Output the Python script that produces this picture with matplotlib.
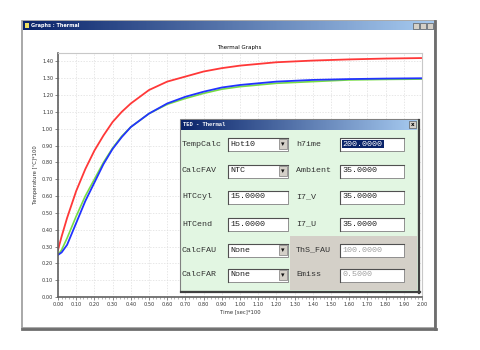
import matplotlib
matplotlib.use("Agg")
import matplotlib.pyplot as plt
from matplotlib.patches import Rectangle
from matplotlib.colors import LinearSegmentedColormap
import numpy as np

# time axis (sec*100) and the three temperature curves
time = [0.00, 0.02, 0.05, 0.10, 0.15, 0.20, 0.25, 0.30, 0.35, 0.40, 0.50,
        0.60, 0.70, 0.80, 0.90, 1.00, 1.20, 1.40, 1.60, 1.80, 2.00]
temp_red = [0.28, 0.36, 0.47, 0.63, 0.76, 0.87, 0.96, 1.04, 1.10, 1.15, 1.23,
            1.28, 1.31, 1.34, 1.36, 1.375, 1.395, 1.405, 1.412, 1.417, 1.42]
temp_green = [0.25, 0.28, 0.35, 0.48, 0.60, 0.70, 0.80, 0.885, 0.955, 1.01, 1.09,
              1.145, 1.18, 1.21, 1.235, 1.25, 1.27, 1.28, 1.29, 1.293, 1.295]
temp_blue = [0.25, 0.265, 0.31, 0.44, 0.57, 0.68, 0.79, 0.88, 0.95, 1.01, 1.09,
             1.15, 1.19, 1.22, 1.245, 1.26, 1.28, 1.29, 1.295, 1.298, 1.30]

x_ticks = [i / 10 for i in range(21)]
y_ticks = [i / 10 for i in range(15)]

# dialog rows: (left label, left value, is combo, right label, right value, disabled)
rows = [
    ("TempCalc", "Hot10", True, "h7ime", "200.0000", False),
    ("CalcFAV", "NTC", True, "Ambient", "35.0000", False),
    ("HTCcyl", "15.0000", False, "I7_V", "35.0000", False),
    ("HTCend", "15.0000", False, "I7_U", "35.0000", False),
    ("CalcFAU", "None", True, "ThS_FAU", "100.0000", True),
    ("CalcFAR", "None", True, "Emiss", "0.5000", True),
]
row_y = [144, 171, 197, 224, 250, 275]

W, H = 480, 350
fig = plt.figure(figsize=(4.8, 3.5), dpi=100)
fig.patch.set_facecolor("white")

# background layer: application window frame
bg = fig.add_axes([0, 0, 1, 1], zorder=0)
bg.set_xlim(0, W)
bg.set_ylim(H, 0)
bg.axis("off")

bg.add_patch(Rectangle((22, 21), 413, 307, facecolor="white", edgecolor="#9a9a9a", lw=1.2))
bg.plot([435, 435], [21, 329], color="#6e6e6e", lw=2)
bg.plot([22, 436], [328.5, 328.5], color="#6e6e6e", lw=2)
grad = LinearSegmentedColormap.from_list("tb", ["#0a246a", "#a6caf0"])
bg.imshow(np.linspace(0, 1, 200)[None, :], cmap=grad, aspect="auto",
          extent=(23, 434, 30, 21.5), zorder=1)
bg.add_patch(Rectangle((24.5, 23), 4, 5, facecolor="#f0e060", edgecolor="none", zorder=2))
bg.text(31, 25.8, "Graphs : Thermal", color="white", fontsize=3.6,
        fontweight="bold", va="center", ha="left", zorder=2)
for bx in (413, 420, 427):
    bg.add_patch(Rectangle((bx, 22.5), 6, 6, facecolor="#d4d0c8", edgecolor="#404040",
                           lw=0.4, zorder=2))
bg.text(239, 47, "Thermal Graphs", fontsize=4, ha="center", va="center")

# chart
ax = fig.add_axes([58 / W, 1 - 297 / H, (422 - 58) / W, (297 - 53) / H], zorder=2)
ax.plot(time, temp_green, color="#77dd44", lw=1.2)
ax.plot(time, temp_blue, color="#2233ff", lw=1.3)
ax.plot(time, temp_red, color="#ff3838", lw=1.3)
ax.set_xlim(0, 2.0)
ax.set_ylim(0, 1.45)
ax.set_xticks(x_ticks)
ax.set_yticks(y_ticks)
ax.set_xticklabels([f"{v:.2f}" for v in x_ticks], fontsize=3.6, color="#333333")
ax.set_yticklabels([f"{v:.2f}" for v in y_ticks], fontsize=3.6, color="#333333")
ax.set_xticks([i / 50 for i in range(101)], minor=True)
ax.tick_params(length=2, width=0.5, pad=1.5, color="#555555")
ax.tick_params(which="minor", length=1.2, width=0.4, color="#777777")
ax.grid(True, color="#dddddd", lw=0.5, ls=(0, (2, 2)))
ax.set_xlabel("Time [sec]*100", fontsize=3.8, labelpad=1.5, color="#333333")
ax.set_ylabel("Temperature [°C]*100", fontsize=3.8, labelpad=3, color="#333333")
for side in ("left", "bottom"):
    ax.spines[side].set_color("#606060")
    ax.spines[side].set_linewidth(1.2)
for side in ("top", "right"):
    ax.spines[side].set_color("#c8c8c8")
    ax.spines[side].set_linewidth(0.8)

# foreground layer: the TED dialog
fg = fig.add_axes([0, 0, 1, 1], zorder=3)
fg.set_xlim(0, W)
fg.set_ylim(H, 0)
fg.axis("off")
fg.patch.set_alpha(0)

dl, dr, dt, db = 180, 418, 119, 291
fg.add_patch(Rectangle((dl, dt), dr - dl, db - dt, facecolor="#e2f6e2",
                       edgecolor="#808080", lw=0.8))
fg.plot([dl + 1, dr + 1.5], [db + 1.2, db + 1.2], color="#404040", lw=1.6)
fg.plot([dr + 1.2, dr + 1.2], [dt + 1, db + 1.5], color="#404040", lw=1.6)
fg.imshow(np.linspace(0, 1, 200)[None, :], cmap=grad, aspect="auto",
          extent=(dl + 1, dr - 1, 130, 120), zorder=2)
fg.text(dl + 3, 125, "TED - Thermal", color="white", fontsize=4,
        fontweight="bold", family="Liberation Mono", va="center", zorder=3)
fg.add_patch(Rectangle((dr - 9, 121), 7, 7, facecolor="#d4d0c8", edgecolor="#404040",
                       lw=0.4, zorder=3))
fg.text(dr - 5.5, 124.6, "x", fontsize=4, ha="center", va="center", zorder=4,
        fontweight="bold")
# disabled area at bottom right
fg.add_patch(Rectangle((290, 236), dr - 291, db - 237, facecolor="#d4d0c8",
                       edgecolor="none", zorder=1))

mono = dict(family="Liberation Mono", fontsize=6, va="center", zorder=4)


def field(x0, x1, yc, text, disabled=False, selected=False, combo=False):
    h = 13
    y0 = yc - h / 2
    fg.add_patch(Rectangle((x0, y0), x1 - x0, h, facecolor="white",
                           edgecolor="#808080", lw=0.6, zorder=3))
    fg.plot([x0, x0, x1], [y0 + h, y0, y0], color="#505050", lw=0.8, zorder=3)
    color = "#a0a0a0" if disabled else "#222222"
    if selected:
        fg.add_patch(Rectangle((x0 + 2, y0 + 2.5), 42, h - 5, facecolor="#0a246a",
                               edgecolor="none", zorder=3))
        color = "white"
    fg.text(x0 + 2.5, yc, text, color=color, **mono)
    if combo:
        fg.add_patch(Rectangle((x1 - 9, y0 + 1.5), 8, h - 3, facecolor="#d4d0c8",
                               edgecolor="#606060", lw=0.4, zorder=4))
        fg.text(x1 - 5, yc + 0.3, "▾", fontsize=5, ha="center", va="center",
                zorder=5, color="#111111")


for (ll, lv, combo, rl, rv, dis), yc in zip(rows, row_y):
    fg.text(182, yc, ll, color="#333333", **mono)
    field(228, 288, yc, lv, combo=combo)
    fg.text(296, yc, rl, color="#333333", **mono)
    field(340, 404, yc, rv, disabled=dis, selected=(rv == "200.0000"))

fig.savefig("out.png", dpi=100, facecolor="white")
